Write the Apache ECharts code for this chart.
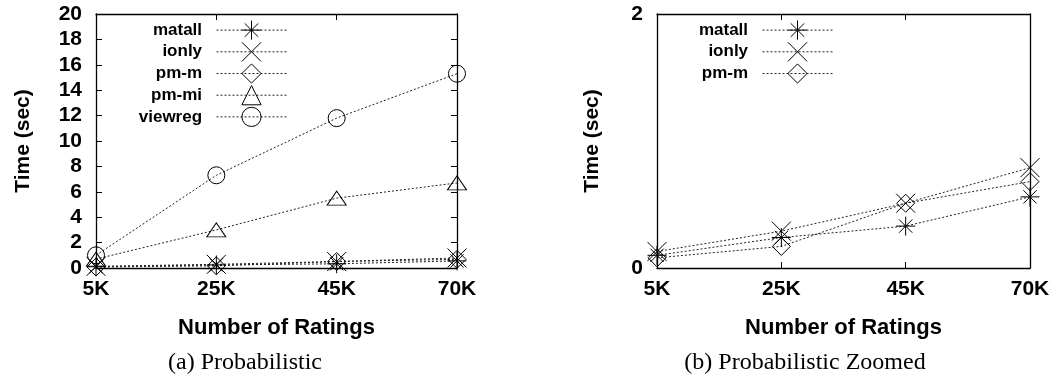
<!DOCTYPE html>
<html>
<head>
<meta charset="utf-8">
<script src="https://cdn.jsdelivr.net/npm/echarts@6/dist/echarts.min.js"></script>
<style>
  html, body { margin: 0; padding: 0; background: #fff; }
  #chart { width: 1057px; height: 382px; }
</style>
</head>
<body>
<div id="chart"></div>
<script>
// Query time (sec) per data size, probabilistic setting
const ratings = ['5K', '25K', '45K', '70K'];
const matall  = [0.10, 0.24, 0.33, 0.56];
const ionly   = [0.13, 0.29, 0.51, 0.79];
const pmM     = [0.08, 0.17, 0.51, 0.68];
const pmMi    = [0.70, 3.0, 5.5, 6.7];
const viewreg = [1.0, 7.3, 11.8, 15.3];

const fullRange   = { min: 0, max: 20, interval: 2 };
const zoomedRange = { min: 0, max: 2, interval: 2 };

const captions = ['(a) Probabilistic', '(b) Probabilistic Zoomed'];

const SANS = 'Liberation Sans, Arial, Helvetica, sans-serif';
const SERIF = 'Liberation Serif, Times New Roman, serif';

// gnuplot-like point shapes
const SYM = {
  asterisk: 'path://M1,0L1,2M0,1L2,1M0.3,0.3L1.7,1.7M0.3,1.7L1.7,0.3',
  cross: 'path://M0,0L2,2M0,2L2,0',
  diamond: 'path://M1,0L2,1L1,2L0,1Z',
  triangle: 'path://M1,0L2,1.5L0,1.5Z',
  circle: 'circle'
};

const lineStyle = { color: '#222', width: 1, type: [2, 2] };
const itemStyle = { color: 'transparent', borderColor: '#000', borderWidth: 1 };

function makeSeries(name, data, symbol, size, grid) {
  return {
    name, type: 'line', data,
    xAxisIndex: grid * 2, yAxisIndex: grid * 2,
    symbol, symbolSize: size, showAllSymbol: true,
    lineStyle, itemStyle, clip: false,
    emphasis: { disabled: true }, silent: true
  };
}

const tickFont = { fontSize: 21, fontWeight: 'bold', color: '#000', fontFamily: SANS };
const titleFont = { fontSize: 21, fontWeight: 'bold', color: '#000', fontFamily: SANS };
const axisLine = { show: true, onZero: false, lineStyle: { color: '#000', width: 1.3 } };
const axisTick = { show: true, inside: true, length: 6, lineStyle: { color: '#000', width: 1 } };

function xAxes(grid) {
  return [
    {
      gridIndex: grid, type: 'category', data: ratings, boundaryGap: false, position: 'bottom',
      axisLine, axisTick, axisLabel: Object.assign({ margin: 11 }, tickFont),
      splitLine: { show: false },
      name: 'Number of Ratings', nameLocation: 'middle', nameGap: 49,
      nameTextStyle: Object.assign({}, titleFont, { fontSize: 22 })
    },
    {
      gridIndex: grid, type: 'category', data: ratings, boundaryGap: false, position: 'top',
      axisLine, axisTick, axisLabel: { show: false }, splitLine: { show: false }
    }
  ];
}

function yAxes(grid, range, nameGap) {
  return [
    Object.assign({
      gridIndex: grid, type: 'value', position: 'left',
      axisLine, axisTick, axisLabel: Object.assign({ margin: 14 }, tickFont),
      splitLine: { show: false },
      name: 'Time (sec)', nameLocation: 'middle', nameGap, nameRotate: 90,
      nameTextStyle: titleFont
    }, range),
    Object.assign({
      gridIndex: grid, type: 'value', position: 'right',
      axisLine, axisTick, axisLabel: { show: false }, splitLine: { show: false }
    }, range)
  ];
}

function legend(names, right) {
  return {
    data: names, orient: 'vertical', align: 'right',
    right, top: 20, padding: 0, itemWidth: 70, itemHeight: 24, itemGap: 1.5,
    selectedMode: false, formatter: n => n + '  ',
    itemStyle: { borderWidth: 1, borderColor: '#000', color: 'transparent' },
    lineStyle: { width: 1, color: '#222', type: [2, 2] },
    textStyle: { fontSize: 17, fontWeight: 'bold', color: '#000', fontFamily: SANS }
  };
}

const chart = echarts.init(document.getElementById('chart'), null, { renderer: 'canvas' });
chart.setOption({
  animation: false,
  backgroundColor: '#fff',
  grid: [
    { left: 96, right: 600, top: 14, bottom: 114 },
    { left: 657, right: 27, top: 14, bottom: 114 }
  ],
  xAxis: [...xAxes(0), ...xAxes(1)],
  yAxis: [...yAxes(0, fullRange, 62), ...yAxes(1, zoomedRange, 54)],
  legend: [
    legend(['matall', 'ionly', 'pm-m', 'pm-mi', 'viewreg'], 770),
    legend(['matall', 'ionly', 'pm-m'], 224)
  ],
  title: [
    { text: captions[0], left: 245, top: 351, textAlign: 'center', padding: 0,
      textStyle: { fontSize: 24, fontWeight: 'normal', color: '#000', fontFamily: SERIF } },
    { text: captions[1], left: 805, top: 351, textAlign: 'center', padding: 0,
      textStyle: { fontSize: 24, fontWeight: 'normal', color: '#000', fontFamily: SERIF } }
  ],
  series: [
    makeSeries('matall', matall, SYM.asterisk, 19, 0),
    makeSeries('ionly', ionly, SYM.cross, 19, 0),
    makeSeries('pm-m', pmM, SYM.diamond, 18, 0),
    makeSeries('pm-mi', pmMi, SYM.triangle, [19, 14], 0),
    makeSeries('viewreg', viewreg, SYM.circle, 17, 0),
    makeSeries('matall', matall, SYM.asterisk, 19, 1),
    makeSeries('ionly', ionly, SYM.cross, 19, 1),
    makeSeries('pm-m', pmM, SYM.diamond, 18, 1)
  ]
});
</script>
</body>
</html>
